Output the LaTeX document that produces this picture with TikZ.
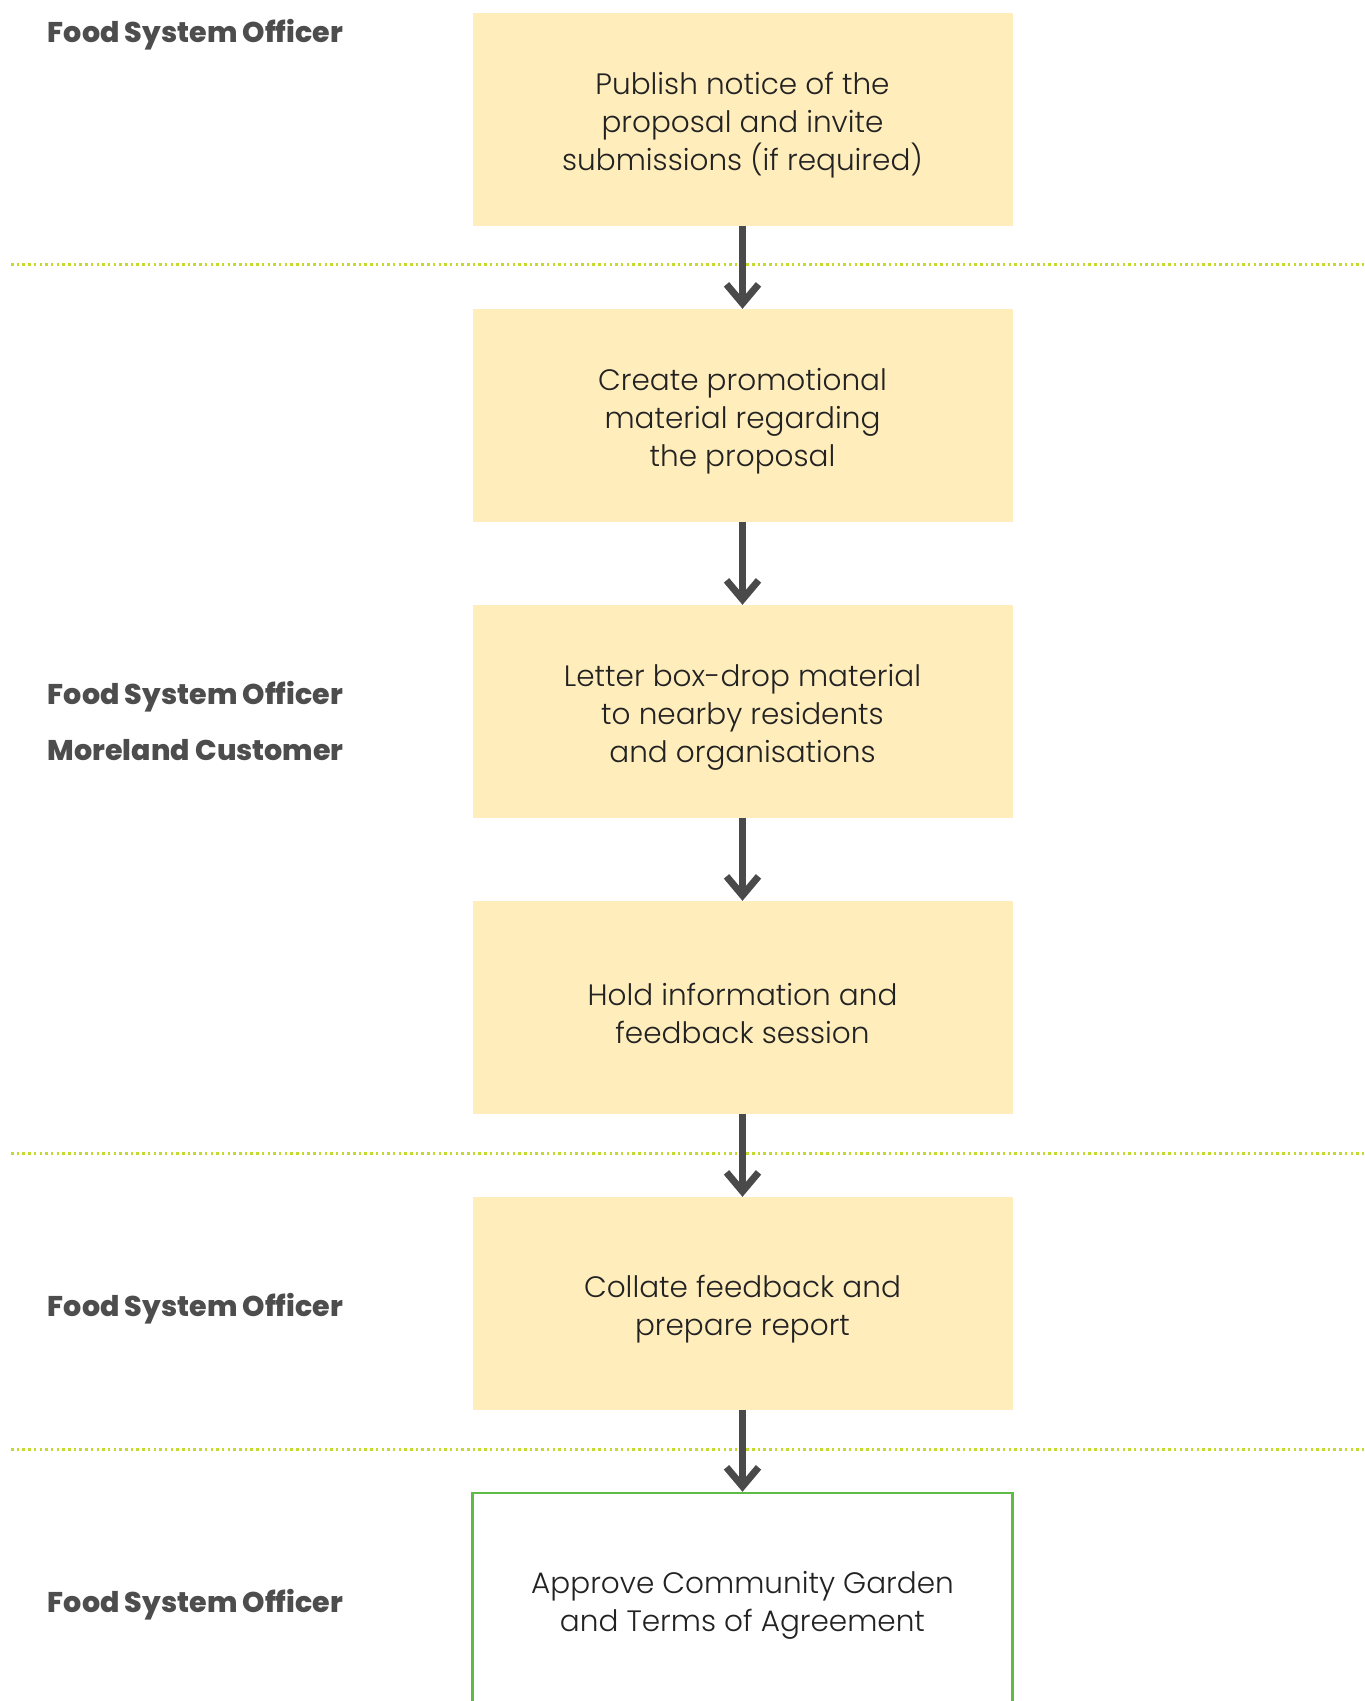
\documentclass[tikz,border=0pt]{standalone}
\usepackage{fontspec}
\setmainfont{Poppins}
\newfontfamily\boxfont{Poppins Light}
\newfontfamily\labfont{Poppins ExtraBold}
\usetikzlibrary{arrows.meta}
\definecolor{boxfill}{HTML}{FFEDBC}
\definecolor{gline}{HTML}{5DBB46}
\definecolor{arrowc}{HTML}{4A4A4A}
\definecolor{labelc}{HTML}{4D4D4D}
\definecolor{dotc}{HTML}{C6D92E}
\definecolor{boxtext}{HTML}{222222}
\tikzset{
  stepbox/.style={minimum width=540pt, minimum height=212.5pt, inner sep=0pt,
    align=center, font=\boxfont\fontsize{29.5}{38}\selectfont, text=boxtext},
  yellowbox/.style={stepbox, fill=boxfill},
  greenbox/.style={stepbox, draw=gline, line width=2.5pt, fill=white},
  steptext/.style={align=center, inner sep=0pt, font=\boxfont\fontsize{29.5}{38}\selectfont, text=boxtext},
  rolelabel/.style={anchor=west, inner sep=0pt, font=\labfont\fontsize{28.5}{32}\selectfont, text=labelc},
  flow/.style={draw=arrowc, line width=7pt, -{Straight Barb[length=19pt,width=32pt,line width=7pt]}},
  dotline/.style={draw=dotc, line width=2.5pt, dash pattern=on 2.5pt off 3.2pt}
}
\begin{document}
\begin{tikzpicture}[x=1pt,y=-1pt]
\useasboundingbox (0,0) rectangle (1365,1701);
\fill[white] (0,0) rectangle (1365,1701);
% separators
\coordinate (d1a) at (11,264.5); \coordinate (d1b) at (1365,264.5);
\coordinate (d2a) at (11,1153.5); \coordinate (d2b) at (1365,1153.5);
\coordinate (d3a) at (11,1449.5); \coordinate (d3b) at (1365,1449.5);
\draw[dotline] (d1a) -- (d1b);
\draw[dotline] (d2a) -- (d2b);
\draw[dotline] (d3a) -- (d3b);
% boxes
\node[yellowbox] (b1) at (742.5,119.25) {};
\node[yellowbox] (b2) at (742.5,415.25) {};
\node[yellowbox] (b3) at (742.5,711.25) {};
\node[yellowbox] (b4) at (742.5,1007.25) {};
\node[yellowbox] (b5) at (742.5,1303.25) {};
\node[greenbox] (b6) at (742.5,1599.25) {};
% box texts
\node[steptext] (t1) at (742.5,125.5) {Publish notice of the\\proposal and invite\\submissions (if required)};
\node[steptext] (t2) at (742.5,421.5) {Create promotional\\material regarding\\the proposal};
\node[steptext] (t3) at (742.5,717.5) {Letter box-drop material\\to nearby residents\\and organisations};
\node[steptext] (t4) at (742.5,1013.5) {Hold information and\\feedback session};
\node[steptext] (t5) at (742.5,1309.5) {Collate feedback and\\prepare report};
\node[steptext] (t6) at (742.5,1605.5) {Approve Community Garden\\and Terms of Agreement};
% arrows
\draw[flow] (b1) -- (b2);
\draw[flow] (b2) -- (b3);
\draw[flow] (b3) -- (b4);
\draw[flow] (b4) -- (b5);
\draw[flow] (b5) -- (b6);
% labels
\node[rolelabel] (l1) at (47.7,34.9) {Food System Officer};
\node[rolelabel] (l2) at (47.7,696.2) {Food System Officer};
\node[rolelabel] (l3) at (47.7,750.5) {Moreland Customer};
\node[rolelabel] (l4) at (47.7,1308.5) {Food System Officer};
\node[rolelabel] (l5) at (47.7,1604.5) {Food System Officer};
\end{tikzpicture}
\end{document}
